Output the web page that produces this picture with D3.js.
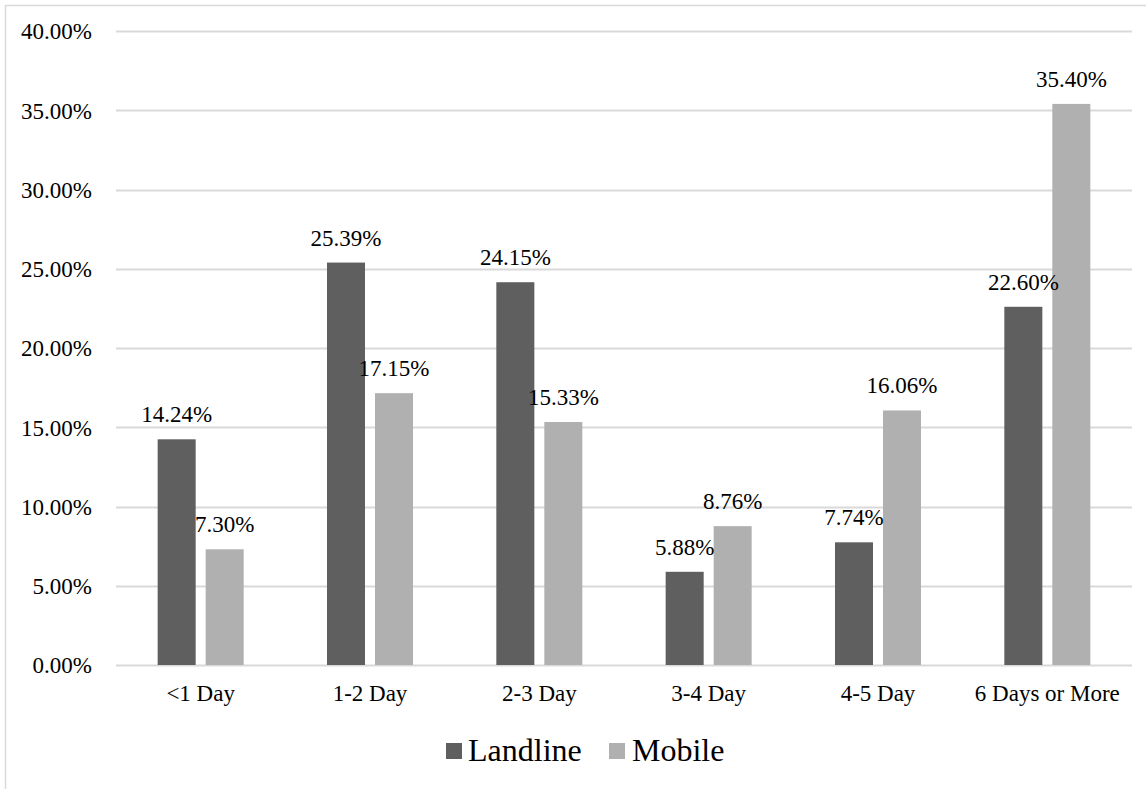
<!DOCTYPE html>
<html>
<head>
<meta charset="utf-8">
<script src="https://cdn.jsdelivr.net/npm/d3@7"></script>
<style>
  html, body { margin: 0; padding: 0; background: #fff; }
  svg { display: block; }
</style>
</head>
<body>
<svg id="chart" width="1146" height="789"></svg>
<script>
// Share of respondents by duration, landline vs mobile samples
const categories = ["<1 Day", "1-2 Day", "2-3 Day", "3-4 Day", "4-5 Day", "6 Days or More"];
const landline = [14.24, 25.39, 24.15, 5.88, 7.74, 22.60];
const mobile   = [7.30, 17.15, 15.33, 8.76, 16.06, 35.40];
const seriesNames = ["Landline", "Mobile"];
const yTicks = [0, 5, 10, 15, 20, 25, 30, 35, 40];

const colors = { Landline: "#5f5f5f", Mobile: "#b0b0b0" };
const FONT = "'Liberation Serif', 'Times New Roman', Times, serif";
const LABEL_SIZE = "23px";

const svg = d3.select("#chart").style("font-family", FONT);
const W = 1146, H = 789;

// outer frame (runs past the right and bottom edges)
svg.append("rect")
  .attr("x", 5.5).attr("y", 5.5)
  .attr("width", W + 20).attr("height", H + 20)
  .attr("fill", "none").attr("stroke", "#d9d9d9").attr("stroke-width", 1.5);

const margin = { left: 116, right: 1132, top: 31, bottom: 665 };

const x0 = d3.scaleBand()
  .domain(categories)
  .range([margin.left, margin.right])
  .paddingInner(0).paddingOuter(0);

const barW = x0.bandwidth() * 0.2245;
const gap = x0.bandwidth() * 0.059;
const x1 = d3.scaleOrdinal()
  .domain(seriesNames)
  .range([-(gap / 2 + barW), gap / 2]);

const y = d3.scaleLinear().domain([0, 40]).range([margin.bottom, margin.top]);

// gridlines
svg.append("g")
  .selectAll("line")
  .data(yTicks)
  .join("line")
  .attr("x1", margin.left).attr("x2", margin.right)
  .attr("y1", d => Math.round(y(d)) + 0.5).attr("y2", d => Math.round(y(d)) + 0.5)
  .attr("stroke", "#d9d9d9").attr("stroke-width", 2);

// y-axis labels
const yAxis = d3.axisLeft(y)
  .tickValues(yTicks)
  .tickFormat(d => d.toFixed(2) + "%")
  .tickSize(0).tickPadding(24);
const gy = svg.append("g").attr("transform", `translate(${margin.left},0)`).call(yAxis)
  .attr("font-family", null).attr("font-size", null);
gy.select(".domain").remove();
gy.selectAll("text")
  .style("font-family", FONT)
  .style("font-size", LABEL_SIZE).attr("fill", "#000").attr("dy", "0.34em");

// x-axis labels
const xAxis = d3.axisBottom(x0).tickSize(0).tickPadding(20);
const gx = svg.append("g").attr("transform", `translate(0,${margin.bottom})`).call(xAxis)
  .attr("font-family", null).attr("font-size", null);
gx.select(".domain").remove();
gx.selectAll("text")
  .style("font-family", FONT)
  .style("font-size", LABEL_SIZE).attr("fill", "#000");

// bars and value labels
const rows = categories.map((c, i) => ({
  category: c,
  values: [
    { series: "Landline", value: landline[i] },
    { series: "Mobile", value: mobile[i] }
  ]
}));

const groups = svg.append("g")
  .selectAll("g")
  .data(rows)
  .join("g")
  .attr("transform", d => `translate(${x0(d.category) + x0.bandwidth() / 2},0)`);

groups.selectAll("rect")
  .data(d => d.values)
  .join("rect")
  .attr("x", d => x1(d.series))
  .attr("width", barW)
  .attr("y", d => y(d.value))
  .attr("height", d => y(0) - y(d.value))
  .attr("fill", d => colors[d.series]);

groups.selectAll("text")
  .data(d => d.values)
  .join("text")
  .attr("x", d => x1(d.series) + barW / 2)
  .attr("y", d => y(d.value) - 17)
  .attr("text-anchor", "middle")
  .attr("fill", "#000")
  .style("font-family", FONT)
  .style("font-size", LABEL_SIZE)
  .text(d => d.value.toFixed(2) + "%");

// legend
const legendItems = [
  { name: "Landline", sx: 446, tx: 468 },
  { name: "Mobile", sx: 609, tx: 632 }
];
const legend = svg.append("g");
legend.selectAll("rect")
  .data(legendItems)
  .join("rect")
  .attr("x", d => d.sx).attr("y", 743)
  .attr("width", 16).attr("height", 16)
  .attr("fill", d => colors[d.name]);
legend.selectAll("text")
  .data(legendItems)
  .join("text")
  .attr("x", d => d.tx).attr("y", 761)
  .attr("fill", "#000")
  .style("font-family", FONT)
  .style("font-size", "32px")
  .text(d => d.name);
</script>
</body>
</html>
